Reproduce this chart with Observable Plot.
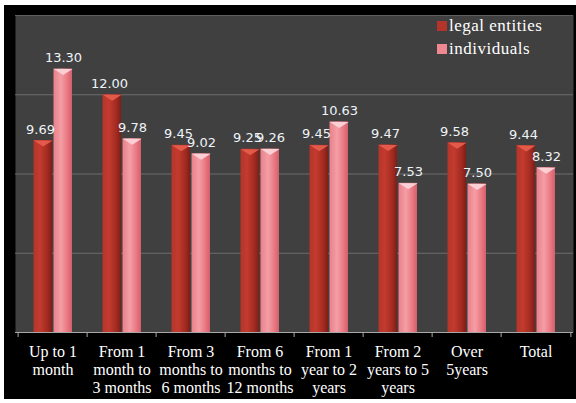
<!DOCTYPE html>
<html><head><meta charset="utf-8">
<script src="https://cdn.jsdelivr.net/npm/d3@7"></script>
<script src="https://cdn.jsdelivr.net/npm/@observablehq/plot@0.6"></script>
<style>
html,body{margin:0;padding:0;background:#fff;}
#wrap{position:relative;width:576px;height:403px;background:#fff;overflow:hidden;}
#panel{position:absolute;left:4px;top:5px;width:572px;height:394px;background:#000;}
#chart{position:absolute;left:0;top:0;}
#legend{position:absolute;left:437px;top:14px;font-family:"Liberation Serif",serif;font-size:17px;color:#fff;line-height:23px;letter-spacing:0.5px;}
#legend .row{display:flex;align-items:center;white-space:nowrap;}
#legend .sw{display:inline-block;width:10px;height:10px;margin-right:2px;}
</style></head>
<body>
<div id="wrap"><div id="panel"></div><div id="chart"></div><div id="legend"></div></div>
<script>
const categories = ["Up to 1\nmonth", "From 1\nmonth to\n3 months", "From 3\nmonths to\n6 months", "From 6\nmonths to\n12 months", "From 1\nyear to 2\nyears", "From 2\nyears to 5\nyears", "Over\n5years", "Total"];
const legalEntities = [9.69, 12.00, 9.45, 9.25, 9.45, 9.47, 9.58, 9.44];
const individuals = [13.30, 9.78, 9.02, 9.26, 10.63, 7.53, 7.50, 8.32];
const seriesNames = ["legal entities", "individuals"];
const seriesColors = ["#b3342a", "#f08891"];
const yTicks = [4, 8, 12];
const yMax = 16;

const legalRows = categories.map((c, i) => ({category: c, value: legalEntities[i]}));
const indivRows = categories.map((c, i) => ({category: c, value: individuals[i]}));

const vee = {draw(ctx) { const w = 9.4, h = 6; ctx.moveTo(-w, 0); ctx.lineTo(w, 0); ctx.lineTo(0, h); ctx.closePath(); }};
const fmt = d => d.value.toFixed(2);
const labelFont = {fontSize: 13, fontFamily: "DejaVu Sans", fill: "#eef3f8"};

const plot = Plot.plot({
  width: 576, height: 403,
  marginLeft: 15, marginRight: 3, marginTop: 15, marginBottom: 71,
  style: {background: "transparent", overflow: "visible"},
  x: {domain: categories, padding: 0, axis: null},
  y: {domain: [0, yMax], axis: null},
  marks: [
    Plot.frame({fill: "#404040", stroke: "none"}),
    Plot.ruleY([yMax], {stroke: "#5e5e5e"}),
    Plot.ruleY(yTicks, {stroke: "#6c6c6c"}),
    Plot.barY(legalRows, {x: "category", y: "value", fill: "url(#gRed)", insetLeft: 15.5, insetRight: 35}),
    Plot.barY(indivRows, {x: "category", y: "value", fill: "url(#gPink)", insetLeft: 35.5, insetRight: 15}),
    Plot.dot(legalRows, {x: "category", y: "value", symbol: vee, fill: "#e35a4a", dx: -9.8}),
    Plot.dot(indivRows, {x: "category", y: "value", symbol: vee, fill: "#fbd0d5", dx: 10.2}),
    Plot.ruleY([0], {stroke: "#a8a8a8"}),
    Plot.ruleX(categories, {x: d => d, y1: 0, y2: 0, insetBottom: -5, dx: -34.875, stroke: "#a8a8a8"}),
    Plot.ruleX(categories.slice(-1), {x: d => d, y1: 0, y2: 0, insetBottom: -5, dx: 34.875, stroke: "#a8a8a8"}),
    Plot.text(legalRows, {x: "category", y: "value", text: fmt, dx: -12.5, dy: -11, ...labelFont}),
    Plot.text(indivRows, {x: "category", y: "value", text: fmt, dx: 10.5, dy: -11, ...labelFont}),
    Plot.text(categories, {x: d => d, y: 0, text: d => d, lineAnchor: "top", dy: 12, lineHeight: 1.13, fontSize: 16, fontFamily: "Liberation Serif", fill: "#ffffff"})
  ]
});

d3.select(plot).insert("defs", ":first-child").html(`
<linearGradient id="gRed" x1="0" x2="1" y1="0" y2="0">
<stop offset="0" stop-color="#b5352a"/><stop offset="0.35" stop-color="#c33b2e"/><stop offset="0.75" stop-color="#a22b21"/><stop offset="1" stop-color="#7e1d16"/>
</linearGradient>
<linearGradient id="gPink" x1="0" x2="1" y1="0" y2="0">
<stop offset="0" stop-color="#e9808a"/><stop offset="0.4" stop-color="#f49ea5"/><stop offset="0.75" stop-color="#ea7882"/><stop offset="1" stop-color="#d2606c"/>
</linearGradient>`);

document.getElementById("chart").appendChild(plot);

const legend = document.getElementById("legend");
seriesNames.forEach((name, i) => {
  const row = document.createElement("div");
  row.className = "row";
  const sw = document.createElement("span");
  sw.className = "sw";
  sw.style.background = seriesColors[i];
  const t = document.createElement("span");
  t.textContent = name;
  row.appendChild(sw); row.appendChild(t);
  legend.appendChild(row);
});
</script>
</body></html>
